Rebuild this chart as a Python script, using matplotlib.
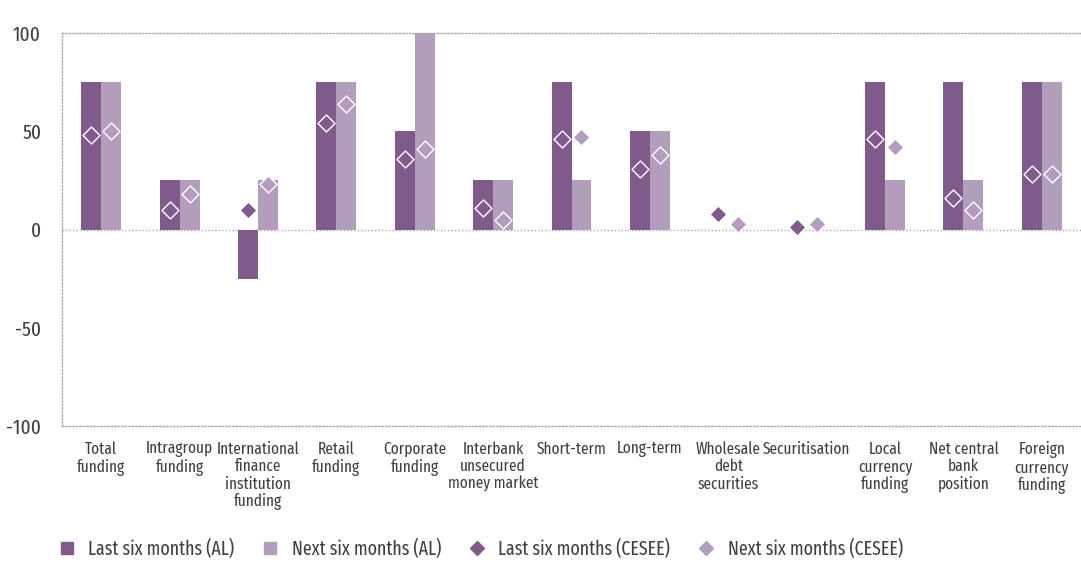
import matplotlib.pyplot as plt
from matplotlib.lines import Line2D
import numpy as np

categories = ['Total\nfunding', 'Intragroup\nfunding', 'International\nfinance\ninstitution\nfunding',
              'Retail\nfunding', 'Corporate\nfunding', 'Interbank\nunsecured\nmoney market',
              'Short-term', 'Long-term', 'Wholesale\ndebt\nsecurities', 'Securitisation',
              'Local\ncurrency\nfunding', 'Net central\nbank\nposition', 'Foreign\ncurrency\nfunding']

last_al = [75, 25, -25, 75, 50, 25, 75, 50, 0, 0, 75, 75, 75]
next_al = [75, 25, 25, 75, 100, 25, 25, 50, 0, 0, 25, 25, 75]
last_cesee = [48, 10, 10, 54, 36, 11, 46, 31, 8, 1.5, 46, 16, 28]
next_cesee = [50, 18, 23, 64, 41, 5, 47, 38, 3, 3, 42, 10, 28]

dark = '#7f5a8b'
light = '#b29eba'
textcol = '#404040'
plt.rcParams['font.family'] = ['Fira Sans Extra Condensed', 'DejaVu Sans']

fig = plt.figure(figsize=(10.81, 5.62), dpi=100)
ax = fig.add_axes([62 / 1081, 1 - 426 / 562, 1019 / 1081, 393 / 562])

x = np.arange(len(categories))
w = 0.255
ax.bar(x - w / 2, last_al, w, color=dark, zorder=2)
ax.bar(x + w / 2, next_al, w, color=light, zorder=2)
ax.scatter(x - w / 2, last_cesee, marker='D', s=75, color=dark, edgecolors='white', linewidths=1, zorder=3)
ax.scatter(x + w / 2, next_cesee, marker='D', s=75, color=light, edgecolors='white', linewidths=1, zorder=3)

ax.set_xlim(-0.5, len(categories) - 0.5)
ax.set_ylim(-100, 100)
ax.set_yticks([-100, -50, 0, 50, 100])
ax.set_yticklabels(['-100', '-50', '0', '50', '100'], fontsize=15, color=textcol)
ax.axhline(0, color='#aaaaaa', linestyle=(0, (1, 1.5)), linewidth=1, zorder=1)
for s in ['top', 'bottom', 'left']:
    ax.spines[s].set_color('#aaaaaa')
    ax.spines[s].set_linestyle((0, (1, 1.5)))
    ax.spines[s].set_linewidth(1)
ax.spines['right'].set_visible(False)
ax.tick_params(axis='both', length=0)
ax.tick_params(axis='y', pad=15)
ax.set_xticks(x)
ax.set_xticklabels(categories, fontsize=12, color=textcol, linespacing=1.1)
ax.tick_params(axis='x', pad=11)

handles = [
    Line2D([], [], marker='s', linestyle='', color=dark, markersize=9),
    Line2D([], [], marker='s', linestyle='', color=light, markersize=9),
    Line2D([], [], marker='D', linestyle='', color=dark, markersize=7.5),
    Line2D([], [], marker='D', linestyle='', color=light, markersize=7.5),
]
labels = ['Last six months (AL)', 'Next six months (AL)', 'Last six months (CESEE)', 'Next six months (CESEE)']
fig.legend(handles, labels, loc='center left', bbox_to_anchor=(57 / 1081, 1 - 549 / 562), ncol=4,
           frameon=False, fontsize=14, borderpad=0, borderaxespad=0, handlelength=1.0,
           handletextpad=0.6, columnspacing=1.35, labelcolor=textcol)

fig.savefig('out.png', dpi=100)
